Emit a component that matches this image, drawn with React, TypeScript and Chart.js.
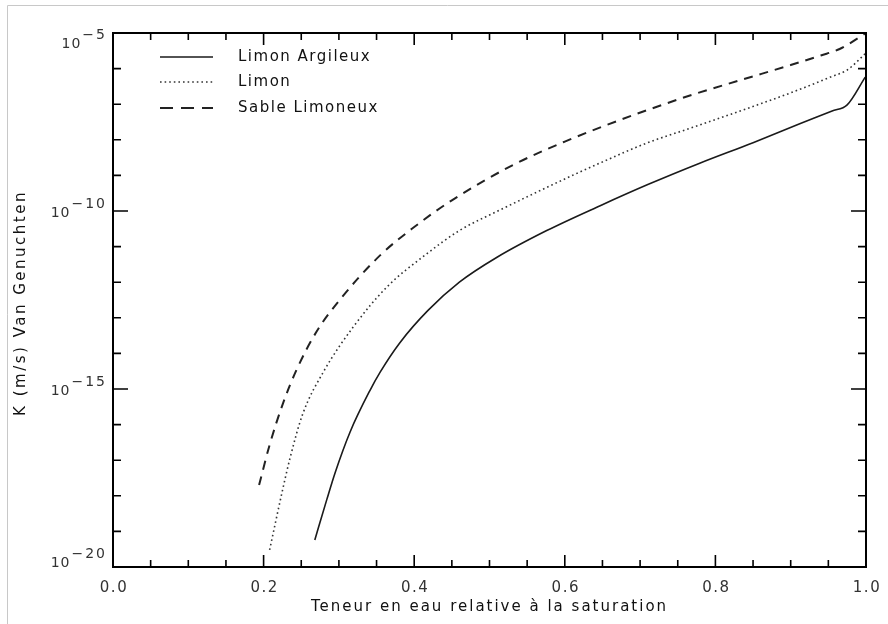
import { useEffect, useRef } from 'react';
import { Chart, registerables } from 'chart.js';

Chart.register(...registerables);

// ---- Data (x = relative water content, values = log10 of K in m/s) ----
const xLimonArgileux = [0.268, 0.284, 0.295, 0.315, 0.341, 0.355, 0.381, 0.418, 0.46, 0.51, 0.576, 0.647, 0.711, 0.78, 0.85, 0.912, 0.955, 0.975, 0.999];
const logLimonArgileux = [-19.24, -18.1, -17.35, -16.2, -15.05, -14.52, -13.7, -12.8, -12.0, -11.3, -10.55, -9.85, -9.25, -8.65, -8.08, -7.55, -7.19, -7.02, -6.24];

const xLimon = [0.208, 0.224, 0.235, 0.252, 0.28, 0.319, 0.364, 0.415, 0.46, 0.514, 0.603, 0.647, 0.709, 0.77, 0.837, 0.9, 0.955, 0.975, 1.0];
const logLimon = [-19.52, -17.95, -16.95, -15.7, -14.5, -13.26, -12.13, -11.23, -10.55, -9.97, -9.07, -8.65, -8.09, -7.65, -7.16, -6.68, -6.22, -6.04, -5.56];

const xSableLimoneux = [0.194, 0.208, 0.226, 0.244, 0.27, 0.301, 0.355, 0.4, 0.45, 0.531, 0.6, 0.651, 0.709, 0.77, 0.837, 0.9, 0.94, 0.965, 1.0];
const logSableLimoneux = [-17.7, -16.57, -15.39, -14.45, -13.4, -12.5, -11.24, -10.45, -9.7, -8.71, -8.05, -7.62, -7.17, -6.73, -6.3, -5.9, -5.63, -5.45, -5.0];

const seriesNames = ['Limon Argileux', 'Limon', 'Sable Limoneux'];

// ---- Axis ticks / labels ----
const xMajorTicks = [0.0, 0.2, 0.4, 0.6, 0.8, 1.0];
const xTickLabels = ['0.0', '0.2', '0.4', '0.6', '0.8', '1.0'];
const xMinorTicks = [0.05, 0.1, 0.15, 0.25, 0.3, 0.35, 0.45, 0.5, 0.55, 0.65, 0.7, 0.75, 0.85, 0.9, 0.95];
const yMajorExp = [-20, -15, -10, -5];
const yExpLabels = ['\u221220', '\u221215', '\u221210', '\u22125'];
const yMinorExp = [-19, -18, -17, -16, -14, -13, -12, -11, -9, -8, -7, -6];
const yBaseLabel = '10';

const xTitle = 'Teneur en eau relative \u00e0 la saturation';
const yTitle = 'K (m/s) Van Genuchten';

const FONT = '"DejaVu Sans", sans-serif';

const styles = [
  { color: '#1a1a1a', width: 1.6, dash: [] as number[] },
  { color: '#333333', width: 1.6, dash: [1.6, 3] },
  { color: '#222222', width: 2, dash: [9, 7] },
];

function toPoints(xs: number[], logs: number[]) {
  return xs.map((x, i) => ({ x, y: Math.pow(10, logs[i]) }));
}

const decor = {
  id: 'decor',
  afterDraw(chart: any) {
    const ctx: CanvasRenderingContext2D = chart.ctx;
    const { left, right, top, bottom } = chart.chartArea;
    const xs = chart.scales.x;
    const ys = chart.scales.y;
    ctx.save();

    // light outer frame
    ctx.strokeStyle = '#c8c8c8';
    ctx.lineWidth = 1;
    ctx.beginPath();
    ctx.moveTo(7.5, 624);
    ctx.lineTo(7.5, 5.5);
    ctx.lineTo(888, 5.5);
    ctx.stroke();

    // plot box
    ctx.strokeStyle = '#000';
    ctx.lineWidth = 2;
    ctx.strokeRect(left, top, right - left, bottom - top);

    // ticks (inward, all four sides)
    ctx.lineWidth = 1.6;
    ctx.beginPath();
    const xt = (v: number, len: number) => {
      const p = xs.getPixelForValue(v);
      ctx.moveTo(p, bottom);
      ctx.lineTo(p, bottom - len);
      ctx.moveTo(p, top);
      ctx.lineTo(p, top + len);
    };
    xMajorTicks.forEach((v) => xt(v, 12));
    xMinorTicks.forEach((v) => xt(v, 7));
    const yt = (e: number, len: number) => {
      const p = ys.getPixelForValue(Math.pow(10, e));
      ctx.moveTo(left, p);
      ctx.lineTo(left + len, p);
      ctx.moveTo(right, p);
      ctx.lineTo(right - len, p);
    };
    yMajorExp.forEach((e) => yt(e, 15));
    yMinorExp.forEach((e) => yt(e, 8));
    ctx.stroke();

    // x tick labels
    (ctx as any).letterSpacing = '1.5px';
    ctx.fillStyle = '#333';
    ctx.font = `15px ${FONT}`;
    ctx.textAlign = 'center';
    ctx.textBaseline = 'middle';
    xMajorTicks.forEach((v, i) => {
      ctx.fillText(xTickLabels[i], xs.getPixelForValue(v) + 1, 588);
    });

    // y tick labels: 10^exp
    ctx.font = `14px ${FONT}`;
    ctx.textAlign = 'right';
    (ctx as any).letterSpacing = '2px';
    yMajorExp.forEach((e, i) => {
      const p = ys.getPixelForValue(Math.pow(10, e));
      let shift = 0;
      if (i === yMajorExp.length - 1) shift = 9;
      if (i === 0) shift = -6;
      const expX = 107;
      ctx.fillText(yExpLabels[i], expX, p - 7 + shift);
      const w = ctx.measureText(yExpLabels[i]).width;
      (ctx as any).letterSpacing = '1px';
      ctx.fillText(yBaseLabel, expX - w - 1, p + 2 + shift);
      (ctx as any).letterSpacing = '2px';
    });

    // axis titles
    ctx.fillStyle = '#111';
    ctx.font = `15px ${FONT}`;
    ctx.textAlign = 'center';
    ctx.textBaseline = 'middle';
    (ctx as any).letterSpacing = '2px';
    ctx.fillText(xTitle, (left + right) / 2, 607);
    ctx.save();
    ctx.translate(21, (top + bottom) / 2 + 3);
    ctx.rotate(-Math.PI / 2);
    (ctx as any).letterSpacing = '2.5px';
    ctx.fillText(yTitle, 0, 0);
    ctx.restore();

    // legend
    const legY = [57, 82, 108];
    (ctx as any).letterSpacing = '1.5px';
    ctx.textAlign = 'left';
    seriesNames.forEach((name, i) => {
      const st = styles[i];
      ctx.strokeStyle = st.color;
      ctx.lineWidth = st.width;
      ctx.setLineDash(i === 2 ? [13, 8] : st.dash);
      ctx.beginPath();
      ctx.moveTo(160, legY[i]);
      ctx.lineTo(213, legY[i]);
      ctx.stroke();
      ctx.setLineDash([]);
      ctx.fillStyle = '#111';
      ctx.fillText(name, 238, legY[i]);
    });

    ctx.restore();
  },
};

export default function App() {
  const ref = useRef<HTMLCanvasElement>(null);
  useEffect(() => {
    const datasets = [
      toPoints(xLimonArgileux, logLimonArgileux),
      toPoints(xLimon, logLimon),
      toPoints(xSableLimoneux, logSableLimoneux),
    ].map((data, i) => ({
      label: seriesNames[i],
      data,
      borderColor: styles[i].color,
      borderWidth: styles[i].width,
      borderDash: styles[i].dash,
      pointRadius: 0,
      fill: false,
      cubicInterpolationMode: 'monotone' as const,
    }));
    const chart = new Chart(ref.current!, {
      type: 'line',
      data: { datasets },
      options: {
        responsive: false,
        animation: false,
        layout: { padding: { left: 0, right: 22, top: 33, bottom: 0 } },
        plugins: { legend: { display: false }, tooltip: { enabled: false } },
        scales: {
          x: {
            type: 'linear',
            min: 0,
            max: 1,
            grid: { display: false },
            border: { display: false },
            ticks: { display: false },
            afterFit: (s: any) => {
              s.height = 57;
            },
          },
          y: {
            type: 'logarithmic',
            min: 1e-20,
            max: 1e-5,
            grid: { display: false },
            border: { display: false },
            ticks: { display: false },
            afterFit: (s: any) => {
              s.width = 113;
            },
          },
        },
      },
      plugins: [decor],
    });
    return () => chart.destroy();
  }, []);
  return (
    <div style={{ position: 'absolute', left: 0, top: 0, width: 888, height: 624, background: '#fff' }}>
      <canvas ref={ref} width={888} height={624} style={{ display: 'block' }} />
    </div>
  );
}
